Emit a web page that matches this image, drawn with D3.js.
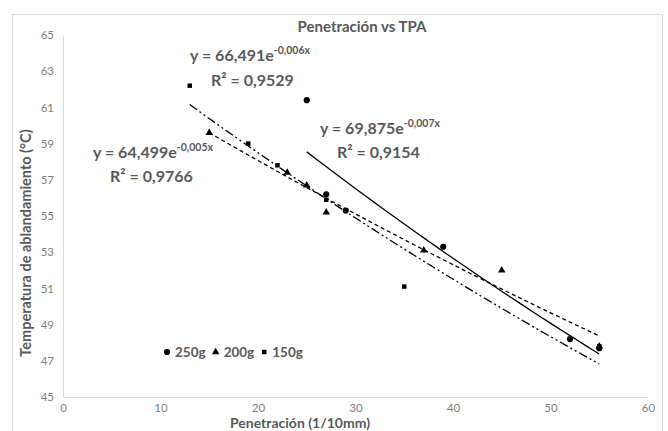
<!DOCTYPE html>
<html>
<head>
<meta charset="utf-8">
<script src="https://cdn.jsdelivr.net/npm/d3@7"></script>
<style>
  body { margin: 0; background: #fff; }
  text { font-family: Lato, "Open Sans", sans-serif; }
</style>
</head>
<body>
<svg id="chart" width="668" height="431"></svg>
<script>
// data
const pen250 = [25, 27, 29, 39, 52, 55]
const tpa250 = [61.4, 56.2, 55.3, 53.3, 48.2, 47.7]
const pen200 = [15, 23, 25, 27, 37, 45, 55]
const tpa200 = [59.6, 57.4, 56.7, 55.2, 53.1, 52.0, 47.8]
const pen150 = [13, 19, 22, 27, 35, 55]
const tpa150 = [62.2, 59.0, 57.8, 55.9, 51.1, 47.8]

const xTicks = [0, 10, 20, 30, 40, 50, 60]
const yTicks = [45, 47, 49, 51, 53, 55, 57, 59, 61, 63, 65]

const series = [
    { name: '250g', x: pen250, y: tpa250, symbol: d3.symbolCircle, size: 30, dash: null,
      eq: ['y = 69,875e', '-0,007x'], r2: 'R² = 0,9154', eqPos: [320, 134], r2Pos: [337, 158] },
    { name: '200g', x: pen200, y: tpa200, symbol: d3.symbolTriangle, size: 24, dash: '4,3',
      eq: ['y = 64,499e', '-0,005x'], r2: 'R² = 0,9766', eqPos: [93, 158], r2Pos: [110, 182] },
    { name: '150g', x: pen150, y: tpa150, symbol: d3.symbolSquare, size: 20, dash: '9,3,2,3,2,3',
      eq: ['y = 66,491e', '-0,006x'], r2: 'R² = 0,9529', eqPos: [190, 61], r2Pos: [211, 86] }
]

const svg = d3.select('#chart')
const margin = { left: 63, right: 20, top: 35, bottom: 34 }
const width = 668, height = 431
const grey = '#595959'

// outer chart border
svg.append('rect')
    .attr('x', 12.5).attr('y', 14.5)
    .attr('width', 650).attr('height', 430)
    .attr('fill', 'none').attr('stroke', '#d9d9d9')

const xScale = d3.scaleLinear().domain([0, 60]).range([margin.left, width - margin.right])
const yScale = d3.scaleLinear().domain([45, 65]).range([height - margin.bottom, margin.top])

// axes
svg.append('g')
    .attr('transform', `translate(0, ${yScale(45)})`)
    .call(d3.axisBottom(xScale).tickValues(xTicks).tickSize(0).tickPadding(7))
svg.append('g')
    .attr('transform', `translate(${xScale(0)}, 0)`)
    .call(d3.axisLeft(yScale).tickValues(yTicks).tickSize(0).tickPadding(9))

svg.selectAll('.domain').attr('stroke', '#d9d9d9')
svg.selectAll('.tick text')
    .style('font-family', 'Lato, sans-serif')
    .style('font-size', '11.5px')
    .attr('fill', '#808080')

// exponential trend line fit (least squares on ln y)
function expFit(xs, ys){
    const ly = ys.map(Math.log)
    const mx = d3.mean(xs), my = d3.mean(ly)
    let sxy = 0, sxx = 0
    xs.forEach((x, i) => { sxy += (x - mx) * (ly[i] - my); sxx += (x - mx) * (x - mx) })
    const b = sxy / sxx
    const a = Math.exp(my - b * mx)
    return x => a * Math.exp(b * x)
}

const line = d3.line().x(d => xScale(d[0])).y(d => yScale(d[1]))

series.forEach(s => {
    const f = expFit(s.x, s.y)
    const [x0, x1] = d3.extent(s.x)
    const pts = d3.range(0, 41).map(i => { const x = x0 + (x1 - x0) * i / 40; return [x, f(x)] })
    svg.append('path')
        .attr('d', line(pts))
        .attr('fill', 'none')
        .attr('stroke', '#000')
        .attr('stroke-width', 1.3)
        .attr('stroke-dasharray', s.dash)
})

series.forEach(s => {
    svg.append('g').selectAll('path')
        .data(s.x.map((x, i) => [x, s.y[i]]))
        .enter()
        .append('path')
            .attr('d', d3.symbol().type(s.symbol).size(s.size))
            .attr('transform', d => `translate(${xScale(d[0])}, ${yScale(d[1])})`)
            .attr('fill', '#000')
})

// trend equations
series.forEach(s => {
    const t = svg.append('text')
        .attr('x', s.eqPos[0]).attr('y', s.eqPos[1])
        .attr('fill', grey)
        .style('font-size', '16px').style('font-weight', 'bold')
    t.append('tspan').text(s.eq[0])
    t.append('tspan').text(s.eq[1])
        .attr('dy', -7).style('font-size', '10.5px')
    svg.append('text')
        .attr('x', s.r2Pos[0]).attr('y', s.r2Pos[1])
        .attr('fill', grey)
        .style('font-size', '16px').style('font-weight', 'bold')
        .text(s.r2)
})

// title and axis titles
svg.append('text')
    .attr('x', 362).attr('y', 32)
    .attr('text-anchor', 'middle')
    .attr('fill', grey)
    .style('font-size', '15px').style('font-weight', 'bold')
    .text('Penetración vs TPA')

svg.append('text')
    .attr('transform', 'translate(31, 243) rotate(-90)')
    .attr('text-anchor', 'middle')
    .attr('fill', grey)
    .style('font-size', '14.5px').style('font-weight', 'bold')
    .text('Temperatura de ablandamiento (°C)')

svg.append('text')
    .attr('x', 300).attr('y', 428)
    .attr('text-anchor', 'middle')
    .attr('fill', grey)
    .style('font-size', '14px').style('font-weight', 'bold')
    .text('Penetración (1/10mm)')

// legend
const legend = svg.append('g').attr('transform', 'translate(167, 352)')
let lx = 0
series.forEach(s => {
    legend.append('path')
        .attr('d', d3.symbol().type(s.symbol).size(s.size))
        .attr('transform', `translate(${lx}, 0)`)
        .attr('fill', '#000')
    const t = legend.append('text')
        .attr('x', lx + 8).attr('y', 5)
        .attr('fill', grey)
        .style('font-size', '13.5px').style('font-weight', 'bold')
        .text(s.name)
    lx += 8 + t.node().getComputedTextLength() + 10
})
</script>
</body>
</html>
